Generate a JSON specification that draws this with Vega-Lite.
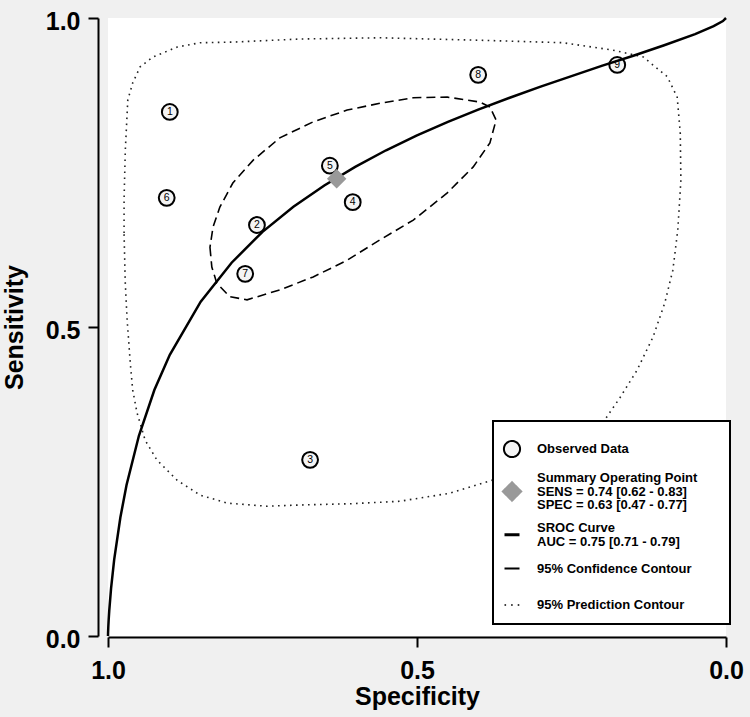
{
  "$schema": "https://vega.github.io/schema/vega-lite/v6.json",
  "width": 618,
  "height": 618,
  "autosize": {"type": "none"},
  "padding": {"left": 108, "top": 18, "right": 24, "bottom": 81},
  "background": "#f0f0f0",
  "config": {
    "font": "Liberation Sans",
    "view": {"fill": "white", "stroke": null}
  },
  "datasets": {
    "observed": [
      {"id": "1", "spec": 0.900, "sens": 0.848, "series": "Observed Data"},
      {"id": "2", "spec": 0.759, "sens": 0.665, "series": "Observed Data"},
      {"id": "3", "spec": 0.673, "sens": 0.285, "series": "Observed Data"},
      {"id": "4", "spec": 0.604, "sens": 0.702, "series": "Observed Data"},
      {"id": "5", "spec": 0.641, "sens": 0.761, "series": "Observed Data"},
      {"id": "6", "spec": 0.905, "sens": 0.709, "series": "Observed Data"},
      {"id": "7", "spec": 0.778, "sens": 0.586, "series": "Observed Data"},
      {"id": "8", "spec": 0.401, "sens": 0.908, "series": "Observed Data"},
      {"id": "9", "spec": 0.176, "sens": 0.924, "series": "Observed Data"}
    ],
    "summary": [{"spec": 0.63, "sens": 0.74}],
    "sroc": [
      {"i": 0, "spec": 1.0, "sens": 0.0},
      {"i": 1, "spec": 0.9999, "sens": 0.0046},
      {"i": 2, "spec": 0.9995, "sens": 0.0149},
      {"i": 3, "spec": 0.999, "sens": 0.0247},
      {"i": 4, "spec": 0.998, "sens": 0.0407},
      {"i": 5, "spec": 0.995, "sens": 0.0774},
      {"i": 6, "spec": 0.99, "sens": 0.1235},
      {"i": 7, "spec": 0.98, "sens": 0.1918},
      {"i": 8, "spec": 0.97, "sens": 0.2443},
      {"i": 9, "spec": 0.95, "sens": 0.324},
      {"i": 10, "spec": 0.925, "sens": 0.398},
      {"i": 11, "spec": 0.9, "sens": 0.455},
      {"i": 12, "spec": 0.85, "sens": 0.541},
      {"i": 13, "spec": 0.8, "sens": 0.604},
      {"i": 14, "spec": 0.75, "sens": 0.654},
      {"i": 15, "spec": 0.7, "sens": 0.6945},
      {"i": 16, "spec": 0.65, "sens": 0.729},
      {"i": 17, "spec": 0.6, "sens": 0.759},
      {"i": 18, "spec": 0.55, "sens": 0.786},
      {"i": 19, "spec": 0.5, "sens": 0.81},
      {"i": 20, "spec": 0.45, "sens": 0.832},
      {"i": 21, "spec": 0.4, "sens": 0.852},
      {"i": 22, "spec": 0.35, "sens": 0.871},
      {"i": 23, "spec": 0.3, "sens": 0.889},
      {"i": 24, "spec": 0.25, "sens": 0.906},
      {"i": 25, "spec": 0.2, "sens": 0.923},
      {"i": 26, "spec": 0.15, "sens": 0.939},
      {"i": 27, "spec": 0.1, "sens": 0.956},
      {"i": 28, "spec": 0.05, "sens": 0.974},
      {"i": 29, "spec": 0.02, "sens": 0.987},
      {"i": 30, "spec": 0.005, "sens": 0.995},
      {"i": 31, "spec": 0.0, "sens": 1.0}
    ],
    "conf": [
      {"i": 1, "spec": 0.835, "sens": 0.629},
      {"i": 2, "spec": 0.832, "sens": 0.597},
      {"i": 3, "spec": 0.824, "sens": 0.571},
      {"i": 4, "spec": 0.803, "sens": 0.549},
      {"i": 5, "spec": 0.775, "sens": 0.544},
      {"i": 6, "spec": 0.722, "sens": 0.56},
      {"i": 7, "spec": 0.668, "sens": 0.581},
      {"i": 8, "spec": 0.613, "sens": 0.608},
      {"i": 9, "spec": 0.56, "sens": 0.641},
      {"i": 10, "spec": 0.506, "sens": 0.673},
      {"i": 11, "spec": 0.451, "sens": 0.717},
      {"i": 12, "spec": 0.409, "sens": 0.759},
      {"i": 13, "spec": 0.382, "sens": 0.798},
      {"i": 14, "spec": 0.372, "sens": 0.835},
      {"i": 15, "spec": 0.382, "sens": 0.856},
      {"i": 16, "spec": 0.398, "sens": 0.864},
      {"i": 17, "spec": 0.451, "sens": 0.872},
      {"i": 18, "spec": 0.506, "sens": 0.871},
      {"i": 19, "spec": 0.56, "sens": 0.862},
      {"i": 20, "spec": 0.613, "sens": 0.851},
      {"i": 21, "spec": 0.668, "sens": 0.832},
      {"i": 22, "spec": 0.722, "sens": 0.806},
      {"i": 23, "spec": 0.765, "sens": 0.77},
      {"i": 24, "spec": 0.798, "sens": 0.733},
      {"i": 25, "spec": 0.819, "sens": 0.694},
      {"i": 26, "spec": 0.83, "sens": 0.662},
      {"i": 27, "spec": 0.835, "sens": 0.629}
    ],
    "pred": [
      {"i": 1, "spec": 0.974, "sens": 0.652},
      {"i": 2, "spec": 0.974, "sens": 0.706},
      {"i": 3, "spec": 0.972, "sens": 0.786},
      {"i": 4, "spec": 0.968, "sens": 0.867},
      {"i": 5, "spec": 0.96, "sens": 0.895},
      {"i": 6, "spec": 0.948, "sens": 0.921},
      {"i": 7, "spec": 0.927, "sens": 0.937},
      {"i": 8, "spec": 0.888, "sens": 0.953},
      {"i": 9, "spec": 0.851, "sens": 0.96},
      {"i": 10, "spec": 0.798, "sens": 0.961},
      {"i": 11, "spec": 0.689, "sens": 0.966},
      {"i": 12, "spec": 0.56, "sens": 0.968},
      {"i": 13, "spec": 0.398, "sens": 0.964},
      {"i": 14, "spec": 0.264, "sens": 0.96},
      {"i": 15, "spec": 0.183, "sens": 0.948},
      {"i": 16, "spec": 0.134, "sens": 0.937},
      {"i": 17, "spec": 0.095, "sens": 0.905},
      {"i": 18, "spec": 0.079, "sens": 0.872},
      {"i": 19, "spec": 0.074, "sens": 0.814},
      {"i": 20, "spec": 0.073, "sens": 0.738},
      {"i": 21, "spec": 0.078, "sens": 0.657},
      {"i": 22, "spec": 0.086, "sens": 0.592},
      {"i": 23, "spec": 0.099, "sens": 0.539},
      {"i": 24, "spec": 0.118, "sens": 0.484},
      {"i": 25, "spec": 0.144, "sens": 0.43},
      {"i": 26, "spec": 0.172, "sens": 0.385},
      {"i": 27, "spec": 0.196, "sens": 0.35},
      {"i": 28, "spec": 0.244, "sens": 0.312},
      {"i": 29, "spec": 0.309, "sens": 0.28},
      {"i": 30, "spec": 0.379, "sens": 0.252},
      {"i": 31, "spec": 0.447, "sens": 0.231},
      {"i": 32, "spec": 0.528, "sens": 0.218},
      {"i": 33, "spec": 0.608, "sens": 0.214},
      {"i": 34, "spec": 0.689, "sens": 0.212},
      {"i": 35, "spec": 0.743, "sens": 0.21},
      {"i": 36, "spec": 0.807, "sens": 0.215},
      {"i": 37, "spec": 0.851, "sens": 0.228},
      {"i": 38, "spec": 0.888, "sens": 0.252},
      {"i": 39, "spec": 0.921, "sens": 0.285},
      {"i": 40, "spec": 0.94, "sens": 0.317},
      {"i": 41, "spec": 0.953, "sens": 0.361},
      {"i": 42, "spec": 0.96, "sens": 0.398},
      {"i": 43, "spec": 0.964, "sens": 0.442},
      {"i": 44, "spec": 0.969, "sens": 0.511},
      {"i": 45, "spec": 0.972, "sens": 0.571},
      {"i": 46, "spec": 0.974, "sens": 0.652}
    ]
  },
  "encoding": {
    "x": {
      "field": "spec",
      "type": "quantitative",
      "scale": {"domain": [0, 1], "reverse": true, "nice": false, "zero": false},
      "axis": {
        "values": [0, 0.5, 1],
        "format": ".1f",
        "grid": false,
        "title": "Specificity",
        "titleFont": "Liberation Sans",
        "titleFontSize": 25,
        "titleFontWeight": "bold",
        "titleColor": "black",
        "titlePadding": 1,
        "labelFont": "Liberation Sans",
        "labelFontSize": 25,
        "labelFontWeight": "bold",
        "labelColor": "black",
        "labelPadding": 11,
        "labelFlush": false,
        "labelOverlap": false,
        "labelBound": false,
        "tickSize": 10,
        "tickWidth": 2,
        "tickColor": "black",
        "domainColor": "black",
        "domainWidth": 2,
        "offset": 1
      }
    },
    "y": {
      "field": "sens",
      "type": "quantitative",
      "scale": {"domain": [0, 1], "nice": false, "zero": false},
      "axis": {
        "values": [0, 0.5, 1],
        "format": ".1f",
        "grid": false,
        "title": "Sensitivity",
        "titleFont": "Liberation Sans",
        "titleFontSize": 25,
        "titleFontWeight": "bold",
        "titleColor": "black",
        "titlePadding": 18,
        "labelFont": "Liberation Sans",
        "labelFontSize": 25,
        "labelFontWeight": "bold",
        "labelColor": "black",
        "labelPadding": 8,
        "labelOffset": 3,
        "labelFlush": false,
        "labelOverlap": false,
        "labelBound": false,
        "tickSize": 10,
        "tickWidth": 2,
        "tickColor": "black",
        "domainColor": "black",
        "domainWidth": 2,
        "offset": 10
      }
    }
  },
  "layer": [
    {
      "data": {"name": "pred"},
      "mark": {"type": "line", "stroke": "#222222", "strokeWidth": 1.6, "strokeDash": [1.6, 4.4], "interpolate": "linear"},
      "encoding": {"order": {"field": "i", "type": "quantitative"}}
    },
    {
      "data": {"name": "conf"},
      "mark": {"type": "line", "stroke": "black", "strokeWidth": 1.6, "strokeDash": [9, 5]},
      "encoding": {"order": {"field": "i", "type": "quantitative"}}
    },
    {
      "data": {"name": "observed"},
      "mark": {"type": "point", "shape": "circle", "filled": true, "fill": "#f4f4f4", "size": 250, "strokeWidth": 2, "opacity": 1},
      "encoding": {
        "stroke": {
          "field": "series",
          "type": "nominal",
          "scale": {
            "domain": [
              "Observed Data",
              "Summary Operating Point|SENS = 0.74 [0.62 - 0.83]|SPEC = 0.63 [0.47 - 0.77]",
              "SROC Curve|AUC = 0.75 [0.71 - 0.79]",
              "95% Confidence Contour",
              "95% Prediction Contour"
            ],
            "range": ["black", "#999999", "black", "black", "black"]
          },
          "legend": {
            "orient": "none",
            "legendX": 385,
            "legendY": 403,
            "title": null,
            "labelExpr": "datum.index == 0 ? [datum.label, ''] : datum.index == 1 ? [split(datum.label, '|')[0] + '\u2800\u2800', split(datum.label, '|')[1], split(datum.label, '|')[2]] : datum.index >= 3 ? ['', datum.label] : split(datum.label, '|')",
            "labelFont": "Liberation Sans",
            "labelFontSize": 13,
            "labelFontWeight": "bold",
            "labelColor": "black",
            "labelLimit": 400,
            "padding": 12,
            "rowPadding": 0,
            "strokeColor": "black",
            "fillColor": "white",
            "encoding": {
              "legend": {"strokeWidth": {"value": 2}},
              "labels": {
                "x": {"value": 32},
                "y": {"value": 16},
                "lineHeight": {"value": {"expr": "datum.index == 0 ? 4 : datum.index == 3 ? 3.5 : datum.index == 4 ? 13 : 13.5"}}
              },
              "symbols": {
                "x": {"value": 7},
                "y": {"value": {"expr": "datum.index == 1 ? 29.5 : datum.index == 2 ? 22.75 : datum.index == 3 ? 19.5 : datum.index == 4 ? 29 : 16"}},
                "shape": {"value": {"expr": "datum.index == 0 ? 'circle' : datum.index == 1 ? 'diamond' : 'stroke'"}},
                "size": {"value": {"expr": "datum.index == 0 ? 260 : datum.index == 1 ? 361 : 225"}},
                "fill": {"value": {"expr": "datum.index == 0 ? '#f4f4f4' : datum.index == 1 ? '#999999' : 'transparent'"}},
                "stroke": {"value": {"expr": "datum.index == 1 ? 'transparent' : 'black'"}},
                "strokeWidth": {"value": {"expr": "datum.index == 0 ? 2 : datum.index == 2 ? 3 : datum.index == 3 ? 2 : 1.6"}},
                "strokeDash": {"value": {"expr": "datum.index == 4 ? [1.6, 5] : [1, 0]"}},
                "opacity": {"value": 1}
              }
            }
          }
        }
      }
    },
    {
      "data": {"name": "observed"},
      "mark": {"type": "text", "fontSize": 10.5, "font": "Liberation Sans", "color": "black", "baseline": "middle", "align": "center"},
      "encoding": {"text": {"field": "id"}}
    },
    {
      "data": {"name": "sroc"},
      "mark": {"type": "line", "stroke": "black", "strokeWidth": 2.5},
      "encoding": {"order": {"field": "i", "type": "quantitative"}}
    },
    {
      "data": {"name": "summary"},
      "mark": {"type": "point", "shape": "diamond", "filled": true, "fill": "#999999", "size": 380, "strokeWidth": 0, "opacity": 1}
    }
  ]
}
